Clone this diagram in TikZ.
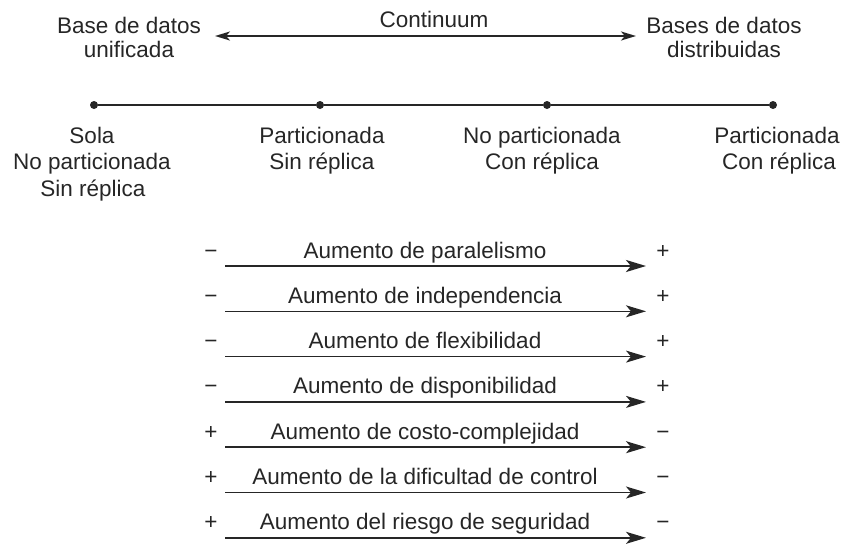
\documentclass[tikz,border=0pt]{standalone}
\usepackage{fontspec}
\setmainfont{Liberation Sans}
\usetikzlibrary{arrows.meta}
\begin{document}
\begin{tikzpicture}[x=1pt,y=-1pt,
  txt/.style={font=\fontsize{22.5}{26}\selectfont, inner sep=0pt, anchor=base, text=black!85},
  dot/.style={circle, fill=black!85, inner sep=0pt, minimum size=8pt},
  tline/.style={line width=2.4pt, draw=black!85},
  toparrow/.style={line width=2pt, draw=black!85, {Stealth[length=15pt,width=9pt,inset=4pt]}-{Stealth[length=15pt,width=9pt,inset=4pt]}},
  rowarrow/.style={line width=1.5pt, draw=black!85, -{Stealth[length=20pt,width=12pt,inset=5pt]}},
  firstarrow/.style={rowarrow, line width=2.6pt}]
\useasboundingbox (0,0) rectangle (843,544);
% top
\node[txt] (uni1) at (129,33) {Base de datos};
\node[txt] (uni2) at (129,57) {unificada};
\node[txt] (cont) at (434,27) {Continuum};
\node[txt] (dist1) at (724,33) {Bases de datos};
\node[txt] (dist2) at (724,57) {distribuidas};
\coordinate (cl) at (215,36);
\coordinate (cr) at (636,36);
\draw[toparrow] (cl) -- (cr);
% timeline
\node[dot] (d1) at (94,105) {};
\node[dot] (d2) at (320,105) {};
\node[dot] (d3) at (547,105) {};
\node[dot] (d4) at (773,105) {};
\draw[tline] (d1) -- (d2) -- (d3) -- (d4);
\node[txt] (l1a) at (92,143) {Sola};
\node[txt] (l1b) at (92,169.5) {No particionada};
\node[txt] (l1c) at (93,196) {Sin réplica};
\node[txt] (l2a) at (322,143) {Particionada};
\node[txt] (l2b) at (322,169.5) {Sin réplica};
\node[txt] (l3a) at (542,143) {No particionada};
\node[txt] (l3b) at (542,169.5) {Con réplica};
\node[txt] (l4a) at (777,143) {Particionada};
\node[txt] (l4b) at (779,169.5) {Con réplica};
% rows
\foreach \i/\t/\l/\r in {0/Aumento de paralelismo/−/+,
  1/Aumento de independencia/−/+,
  2/Aumento de flexibilidad/−/+,
  3/Aumento de disponibilidad/−/+,
  4/Aumento de costo-complejidad/+/−,
  5/Aumento de la dificultad de control/+/−,
  6/Aumento del riesgo de seguridad/+/−}{
  \pgfmathsetmacro{\yy}{266+45.3*\i}
  \node[txt] (t\i) at (425,\yy-8) {\t};
  \node[txt] (m\i) at (211,\yy-8) {\l};
  \node[txt] (p\i) at (663,\yy-8) {\r};
  \coordinate (s\i) at (225,\yy);
  \coordinate (e\i) at (646,\yy);
}
\draw[firstarrow] (s0) -- (e0);
\foreach \i in {1,...,6}{\draw[rowarrow] (s\i) -- (e\i);}
\end{tikzpicture}
\end{document}
